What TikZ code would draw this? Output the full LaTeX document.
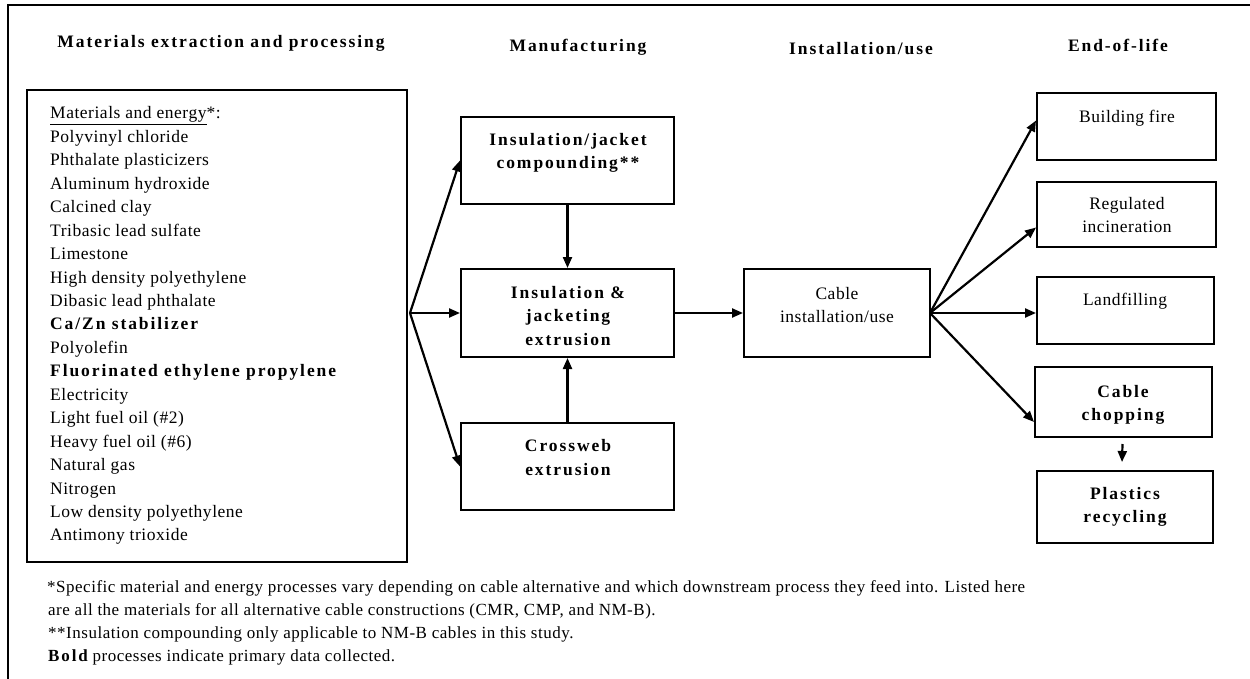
\documentclass[tikz,border=0pt]{standalone}
\usepackage{fontspec}
\setmainfont{Liberation Serif}[LetterSpace=3]
\newfontfamily\bsp{Liberation Serif}[LetterSpace=11]
\usetikzlibrary{arrows.meta,calc}
\tikzset{
  procbox/.style={draw, line width=2pt, inner sep=0pt},
  txt/.style={anchor=base, inner sep=0pt, font=\fontsize{17.5}{21}\selectfont},
  btxt/.style={txt, font=\fontsize{17.5}{21}\selectfont\bsp\bfseries},
  ftxt/.style={txt, anchor=base west, font=\fontsize{17}{21}\selectfont},
  arr/.style={line width=2.2pt, -{Triangle[length=11pt,width=9pt]}},
}
\begin{document}
\begin{tikzpicture}[x=1pt,y=-1pt]
\useasboundingbox (0,0) rectangle (1250,679);
% frame
\coordinate (fbl) at (8,679);
\coordinate (ftl) at (8,5);
\coordinate (ftr) at (1250,5);
\draw[line width=2.4pt] (fbl) -- (ftl) -- (ftr);

% headers
\node[btxt] (h1) at (221,48) {Materials extraction and processing};
\node[btxt] (h2) at (578,52) {Manufacturing};
\node[btxt] (h3) at (861,55) {Installation/use};
\node[btxt] (h4) at (1118,52) {End-of-life};

% materials box
\node[procbox, minimum width=380pt, minimum height=472pt] (mat) at (217,326) {};
\foreach \t [count=\i] in {
  {\underline{Materials and energy}*:},
  {Polyvinyl chloride},
  {Phthalate plasticizers},
  {Aluminum hydroxide},
  {Calcined clay},
  {Tribasic lead sulfate},
  {Limestone},
  {High density polyethylene},
  {Dibasic lead phthalate},
  {\bsp\bfseries Ca/Zn stabilizer},
  {Polyolefin},
  {\bsp\bfseries Fluorinated ethylene propylene},
  {Electricity},
  {Light fuel oil (\#2)},
  {Heavy fuel oil (\#6)},
  {Natural gas},
  {Nitrogen},
  {Low density polyethylene},
  {Antimony trioxide}}
  \node[txt, anchor=base west] (m\i) at (50,{119+23.44*(\i-1)}) {\t};

% manufacturing boxes
\node[procbox, minimum width=213pt, minimum height=87pt] (comp) at (567.5,160.5) {};
\node[btxt] (compa) at (568,146) {Insulation/jacket};
\node[btxt] (compb) at (568,169) {compounding**};

\node[procbox, minimum width=213pt, minimum height=88pt] (ext) at (567.5,313) {};
\node[btxt] (exta) at (568,298) {Insulation \&};
\node[btxt] (extb) at (568,321.5) {jacketing};
\node[btxt] (extc) at (568,345) {extrusion};

\node[procbox, minimum width=213pt, minimum height=87pt] (cw) at (567.5,466.5) {};
\node[btxt] (cwa) at (568,451) {Crossweb};
\node[btxt] (cwb) at (568,475) {extrusion};

% installation
\node[procbox, minimum width=186pt, minimum height=88pt] (inst) at (837,313) {};
\node[txt] (insta) at (837,299) {Cable};
\node[txt] (instb) at (837,322) {installation/use};

% end of life
\node[procbox, minimum width=179pt, minimum height=67pt] (bf) at (1126.5,126.5) {};
\node[txt] (bfa) at (1127,123) {Building fire};

\node[procbox, minimum width=179pt, minimum height=65pt] (ri) at (1126.5,214.5) {};
\node[txt] (ria) at (1127,210) {Regulated};
\node[txt] (rib) at (1127,233) {incineration};

\node[procbox, minimum width=177pt, minimum height=67pt] (lf) at (1125.5,310.5) {};
\node[txt] (lfa) at (1125,305) {Landfilling};

\node[procbox, minimum width=177pt, minimum height=70pt] (ch) at (1123.5,402) {};
\node[btxt] (cha) at (1123,397) {Cable};
\node[btxt] (chb) at (1123,420) {chopping};

\node[procbox, minimum width=176pt, minimum height=72pt] (pr) at (1125,507) {};
\node[btxt] (pra) at (1125,499) {Plastics};
\node[btxt] (prb) at (1125,522) {recycling};

% connectors
\coordinate (mo) at (410,313);
\draw[arr] (mo) -- (comp.west);
\draw[arr] (mo) -- (ext.west);
\draw[arr] (mo) -- (cw.west);
\draw[arr] (comp.south) -- (ext.north);
\draw[arr] (cw.north) -- (ext.south);
\draw[arr] (ext.east) -- (inst.west);
\coordinate (io) at (930,313);
\draw[arr] (io) -- ($(bf.west)+(0,-6)$);
\draw[arr] (io) -- ($(ri.west)+(0,13)$);
\draw[arr] (io) -- ($(lf.west)+(0,2.5)$);
\draw[arr] (io) -- ($(ch.west)+(0,20)$);
\draw[arr] ($(ch.south)+(-1,6)$) -- ($(pr.north)+(-3,-8)$);

% footnotes
\node[ftxt] (f1) at (47,592) {*Specific material and energy processes vary depending on cable alternative and which downstream process they feed into. Listed here};
\node[ftxt] (f2) at (48,615) {are all the materials for all alternative cable constructions (CMR, CMP, and NM-B).};
\node[ftxt] (f3) at (48,638) {**Insulation compounding only applicable to NM-B cables in this study.};
\node[ftxt] (f4) at (48,661) {{\bsp\bfseries Bold} processes indicate primary data collected.};
\end{tikzpicture}
\end{document}
